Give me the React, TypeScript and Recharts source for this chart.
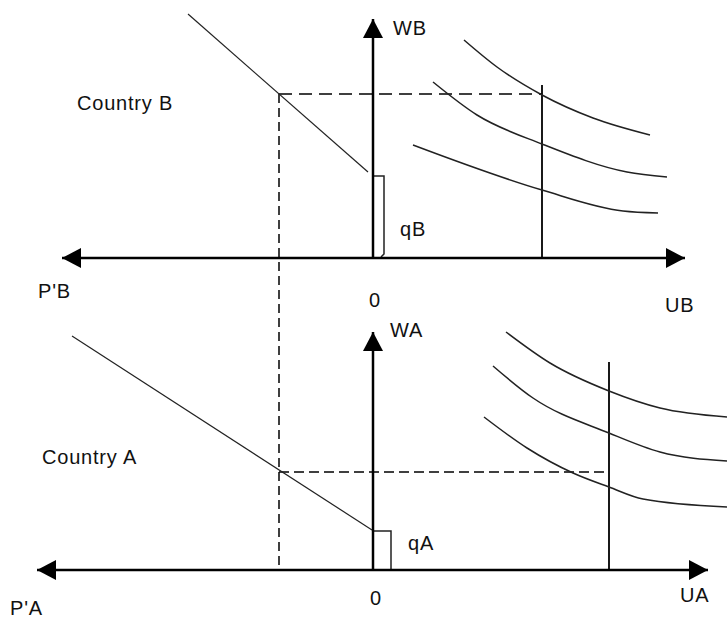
import React from "react";
import { ComposedChart, Line, Scatter, XAxis, YAxis } from "recharts";

type P = { x: number; y: number; dir?: string };

// Vertical distance between the origin of Country B's panel and Country A's panel
const TOP_OFFSET = 312;

// ---- Country B (top panel), coordinates relative to its origin ----
const bAxisH: P[] = [{ x: -311, y: 0, dir: "left" }, { x: 312, y: 0, dir: "right" }];
const bAxisV: P[] = [{ x: 0, y: 0 }, { x: 0, y: 239, dir: "up" }];
const bPriceLine: P[] = [{ x: -185, y: 244 }, { x: -5, y: 86 }];
const bDashH: P[] = [{ x: -94, y: 164 }, { x: 169, y: 164 }];
const bVertical: P[] = [{ x: 169, y: 173 }, { x: 169, y: 1 }];
const bBracket: P[] = [{ x: 0, y: 82 }, { x: 11, y: 82 }, { x: 11, y: 4 }, { x: 8, y: 1 }];
const bCurve1: P[] = [{ x: 91, y: 218 }, { x: 124, y: 191 }, { x: 169, y: 163 }, { x: 220, y: 140 }, { x: 277, y: 123 }];
const bCurve2: P[] = [{ x: 60, y: 176 }, { x: 104, y: 143 }, { x: 169, y: 114 }, { x: 254, y: 86 }, { x: 294, y: 81 }];
const bCurve3: P[] = [{ x: 40, y: 113 }, { x: 169, y: 68 }, { x: 250, y: 47 }, { x: 285, y: 45 }];

// ---- Country A (bottom panel) ----
const aAxisH: P[] = [{ x: -336, y: 0, dir: "left" }, { x: 335, y: 0, dir: "right" }];
const aAxisV: P[] = [{ x: 0, y: 0 }, { x: 0, y: 238, dir: "up" }];
const aPriceLine: P[] = [{ x: -301, y: 234 }, { x: -1, y: 40 }];
const aDashH: P[] = [{ x: -94, y: 98 }, { x: 236, y: 98 }];
const aVertical: P[] = [{ x: 236, y: 208 }, { x: 236, y: 0 }];
const aBracket: P[] = [{ x: 0, y: 39 }, { x: 18, y: 39 }, { x: 18, y: 0 }];
const aCurve1: P[] = [{ x: 133, y: 238 }, { x: 177, y: 207 }, { x: 236, y: 179 }, { x: 287, y: 162 }, { x: 354, y: 153 }];
const aCurve2: P[] = [{ x: 120, y: 204 }, { x: 160, y: 172 }, { x: 236, y: 137 }, { x: 287, y: 118 }, { x: 354, y: 109 }];
const aCurve3: P[] = [{ x: 111, y: 153 }, { x: 154, y: 122 }, { x: 200, y: 97 }, { x: 236, y: 83 }, { x: 270, y: 71 }, { x: 354, y: 63 }];

// dashed vertical link from B's dashed level down to A's axis (global coords)
const linkV: P[] = [{ x: -94, y: TOP_OFFSET + 164 }, { x: -94, y: 0 }];

// ---- labels ----
const bLabels = [
  { x: -296, y: 148, text: "Country B", anchor: "start" },
  { x: -335, y: -40, text: "P'B", anchor: "start" },
  { x: 2, y: -49, text: "0", anchor: "middle" },
  { x: 292, y: -54, text: "UB", anchor: "start" },
  { x: 20, y: 223, text: "WB", anchor: "start" },
  { x: 27, y: 22, text: "qB", anchor: "start" },
];
const aLabels = [
  { x: -331, y: 106, text: "Country A", anchor: "start" },
  { x: -363, y: -45, text: "P'A", anchor: "start" },
  { x: 3, y: -35, text: "0", anchor: "middle" },
  { x: 307, y: -32, text: "UA", anchor: "start" },
  { x: 17, y: 233, text: "WA", anchor: "start" },
  { x: 35, y: 20, text: "qA", anchor: "start" },
];

const shift = (pts: any[], off: number) => pts.map((p) => ({ ...p, y: p.y + off }));
const top = (pts: any[]) => shift(pts, TOP_OFFSET);
const labels = [...top(bLabels), ...aLabels];

const arrowDot = (props: any) => {
  const { cx, cy, payload, index } = props;
  const L = 19;
  const W = 10;
  const d = payload && payload.dir;
  if (!d) return <g key={`n${index}`} />;
  let path = "";
  if (d === "left") path = `M${cx},${cy} L${cx + L},${cy - W} L${cx + L},${cy + W} Z`;
  if (d === "right") path = `M${cx},${cy} L${cx - L},${cy - W} L${cx - L},${cy + W} Z`;
  if (d === "up") path = `M${cx},${cy} L${cx - W},${cy + L} L${cx + W},${cy + L} Z`;
  return <path key={`a${index}`} d={path} fill="#000" stroke="none" />;
};

const labelShape = (props: any) => {
  const { cx, cy, payload } = props;
  return (
    <text
      x={cx}
      y={cy}
      textAnchor={payload.anchor}
      fontFamily="'Liberation Sans', Arial, sans-serif"
      fontSize={20}
      letterSpacing={0.8}
      fill="#111"
    >
      {payload.text}
    </text>
  );
};

export default function App() {
  const axis = { stroke: "#000", strokeWidth: 2.5 };
  const thin = { stroke: "#222", strokeWidth: 1.2 };
  const curve = { stroke: "#222", strokeWidth: 1.5 };
  const dash = { stroke: "#000", strokeWidth: 1.5 };
  const common = { dot: false, activeDot: false, isAnimationActive: false, dataKey: "y", legendType: "none" as const };
  return (
    <div style={{ position: "absolute", left: 0, top: 0, background: "#fff" }}>
      <ComposedChart width={727} height={619} margin={{ top: 0, right: 0, bottom: 0, left: 0 }}>
        <XAxis type="number" dataKey="x" domain={[-373, 354]} hide allowDataOverflow />
        <YAxis type="number" dataKey="y" domain={[-49, 570]} hide allowDataOverflow />

        <Line {...common} data={linkV} type="linear" {...dash} strokeDasharray="9 5" />
        <Line {...common} data={top(bDashH)} type="linear" {...dash} strokeDasharray="13 7" />
        <Line {...common} data={aDashH} type="linear" {...dash} strokeDasharray="10 5" />

        <Line {...common} data={top(bPriceLine)} type="linear" {...thin} />
        <Line {...common} data={aPriceLine} type="linear" {...thin} />
        <Line {...common} data={top(bBracket)} type="linear" {...thin} strokeWidth={1.5} />
        <Line {...common} data={aBracket} type="linear" {...thin} strokeWidth={1.5} />
        <Line {...common} data={top(bVertical)} type="linear" stroke="#000" strokeWidth={1.8} />
        <Line {...common} data={aVertical} type="linear" stroke="#000" strokeWidth={1.8} />

        <Line {...common} data={top(bCurve1)} type="monotone" {...curve} />
        <Line {...common} data={top(bCurve2)} type="monotone" {...curve} />
        <Line {...common} data={top(bCurve3)} type="monotone" {...curve} />
        <Line {...common} data={aCurve1} type="monotone" {...curve} />
        <Line {...common} data={aCurve2} type="monotone" {...curve} />
        <Line {...common} data={aCurve3} type="monotone" {...curve} />

        <Line {...common} data={top(bAxisH)} type="linear" {...axis} dot={arrowDot} />
        <Line {...common} data={top(bAxisV)} type="linear" {...axis} dot={arrowDot} />
        <Line {...common} data={aAxisH} type="linear" {...axis} dot={arrowDot} />
        <Line {...common} data={aAxisV} type="linear" {...axis} dot={arrowDot} />

        <Scatter data={labels} dataKey="y" shape={labelShape} isAnimationActive={false} legendType="none" />
      </ComposedChart>
    </div>
  );
}
